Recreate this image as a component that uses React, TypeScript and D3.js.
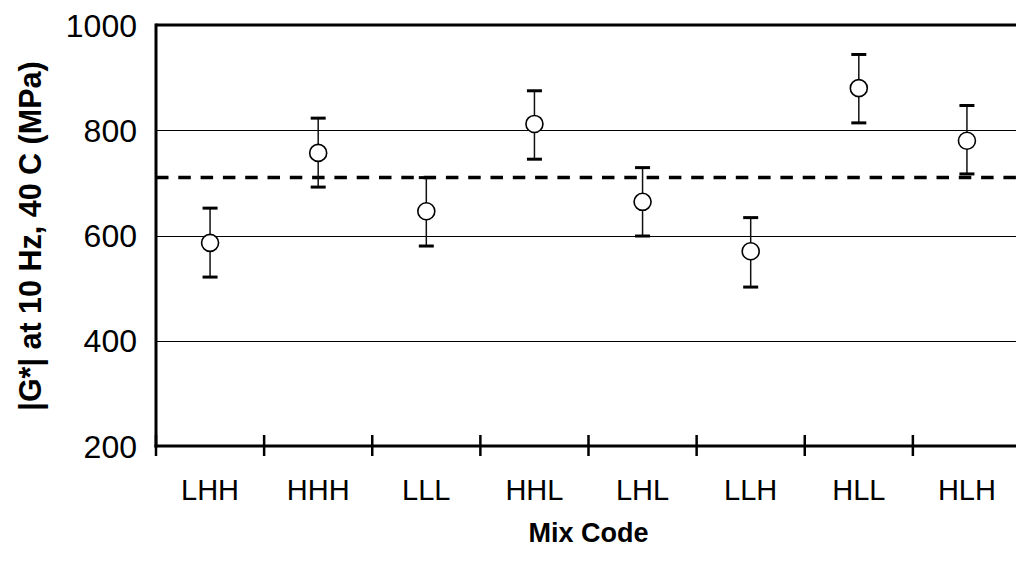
import React, { useEffect, useRef } from "react";
import * as d3 from "d3";

// values
const mixCodes = ["LHH", "HHH", "LLL", "HHL", "LHL", "LLH", "HLL", "HLH"];
const meanModulus = [586, 757, 646, 812, 664, 570, 880, 780];
const errLow = [65, 65, 66, 67, 65, 68, 66, 63];
const errHigh = [66, 66, 64, 63, 65, 64, 64, 67];
const yTicks = [200, 400, 600, 800, 1000];
const gridValues = [400, 600, 800];
const refLine = 710;

const W = 1016;
const H = 562;

export default function App() {
  const svgRef = useRef<SVGSVGElement>(null);

  useEffect(() => {
    const svg = d3.select(svgRef.current);
    svg.selectAll("*").remove();

    const left = 156,
      right = 1021,
      top = 25,
      bottom = 446;

    const x = d3.scaleBand().domain(mixCodes).range([left, right]).padding(0);
    const y = d3.scaleLinear().domain([200, 1000]).range([bottom, top]);
    const font = "'Liberation Sans', Arial, sans-serif";

    // grid lines
    svg
      .append("g")
      .selectAll("line")
      .data(gridValues)
      .join("line")
      .attr("x1", left)
      .attr("x2", W)
      .attr("y1", (d) => Math.round(y(d)) + 0.5)
      .attr("y2", (d) => Math.round(y(d)) + 0.5)
      .attr("stroke", "#000")
      .attr("stroke-width", 1);

    // top border (1000)
    svg
      .append("line")
      .attr("x1", left)
      .attr("x2", W)
      .attr("y1", y(1000))
      .attr("y2", y(1000))
      .attr("stroke", "#000")
      .attr("stroke-width", 3);

    // reference dashed line
    svg
      .append("line")
      .attr("x1", left)
      .attr("x2", W)
      .attr("y1", y(refLine))
      .attr("y2", y(refLine))
      .attr("stroke", "#000")
      .attr("stroke-width", 3.5)
      .attr("stroke-dasharray", "12.5 9.8");

    // left axis
    svg
      .append("line")
      .attr("x1", left)
      .attr("x2", left)
      .attr("y1", y(1000) - 1.5)
      .attr("y2", bottom + 1.5)
      .attr("stroke", "#000")
      .attr("stroke-width", 3);

    // bottom axis
    svg
      .append("line")
      .attr("x1", left - 1.5)
      .attr("x2", W)
      .attr("y1", bottom)
      .attr("y2", bottom)
      .attr("stroke", "#000")
      .attr("stroke-width", 3);

    // category boundary ticks
    const boundaries = mixCodes.map((c) => x(c) as number);
    svg
      .append("g")
      .selectAll("line")
      .data(boundaries)
      .join("line")
      .attr("x1", (d) => d)
      .attr("x2", (d) => d)
      .attr("y1", bottom - 11)
      .attr("y2", bottom + 10)
      .attr("stroke", "#000")
      .attr("stroke-width", 2.5);

    // y tick labels
    svg
      .append("g")
      .selectAll("text")
      .data(yTicks)
      .join("text")
      .attr("x", 137)
      .attr("y", (d) => y(d))
      .attr("dy", "0.36em")
      .attr("text-anchor", "end")
      .attr("font-family", font)
      .attr("font-size", 32)
      .text((d) => d);

    // x tick labels
    svg
      .append("g")
      .selectAll("text")
      .data(mixCodes)
      .join("text")
      .attr("x", (d) => (x(d) as number) + x.bandwidth() / 2)
      .attr("y", 500)
      .attr("text-anchor", "middle")
      .attr("font-family", font)
      .attr("font-size", 29)
      .text((d) => d);

    // axis titles
    svg
      .append("text")
      .attr("x", (left + right) / 2)
      .attr("y", 542)
      .attr("text-anchor", "middle")
      .attr("font-family", font)
      .attr("font-weight", "bold")
      .attr("font-size", 27)
      .text("Mix Code");

    svg
      .append("text")
      .attr("transform", "translate(41, 236) rotate(-90)")
      .attr("text-anchor", "middle")
      .attr("font-family", font)
      .attr("font-weight", "bold")
      .attr("font-size", 30.5)
      .text("|G*| at 10 Hz, 40 C (MPa)");

    // error bars and markers
    const pts = svg
      .append("g")
      .selectAll("g")
      .data(mixCodes)
      .join("g")
      .attr("transform", (d) => `translate(${(x(d) as number) + x.bandwidth() / 2},0)`);

    pts
      .append("line")
      .attr("y1", (d, i) => y(meanModulus[i] + errHigh[i]))
      .attr("y2", (d, i) => y(meanModulus[i] - errLow[i]))
      .attr("stroke", "#111")
      .attr("stroke-width", 1.5);

    pts
      .append("line")
      .attr("x1", -7.5)
      .attr("x2", 7.5)
      .attr("y1", (d, i) => y(meanModulus[i] + errHigh[i]))
      .attr("y2", (d, i) => y(meanModulus[i] + errHigh[i]))
      .attr("stroke", "#000")
      .attr("stroke-width", 3);

    pts
      .append("line")
      .attr("x1", -7.5)
      .attr("x2", 7.5)
      .attr("y1", (d, i) => y(meanModulus[i] - errLow[i]))
      .attr("y2", (d, i) => y(meanModulus[i] - errLow[i]))
      .attr("stroke", "#000")
      .attr("stroke-width", 3);

    pts
      .append("circle")
      .attr("cy", (d, i) => y(meanModulus[i]))
      .attr("r", 8.5)
      .attr("fill", "#fff")
      .attr("stroke", "#000")
      .attr("stroke-width", 1.6);
  }, []);

  return (
    <svg
      ref={svgRef}
      width={W}
      height={H}
      style={{ position: "absolute", left: 0, top: 0, background: "#fff" }}
    />
  );
}
